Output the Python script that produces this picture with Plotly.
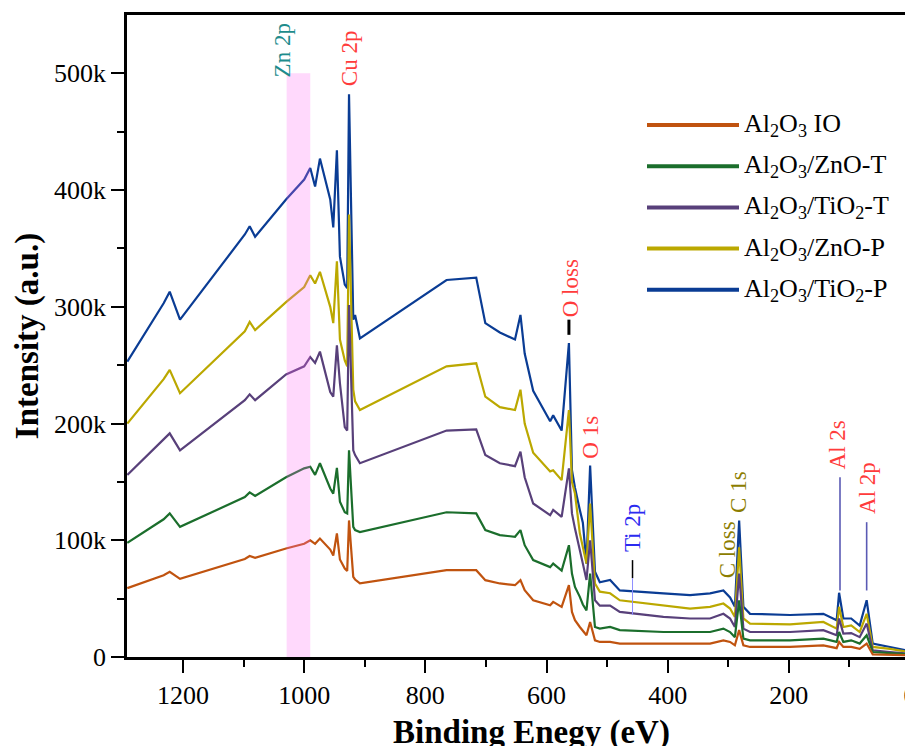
import numpy as np
import plotly.graph_objects as go

# Binding energy grid (eV)
energy = [1292, 1232, 1222, 1205, 1098, 1090, 1081, 1030, 1000, 990, 982, 974, 957, 952,
          946, 941, 933, 929, 926, 919, 916, 908, 765, 716, 701, 677, 652, 643, 636, 622,
          594, 589, 575, 563, 558, 553, 545, 540, 534, 528, 520, 512, 495, 479, 407, 363,
          330, 308, 297, 289, 282, 275, 264, 198, 143, 121, 117, 110, 97, 83, 71.5, 61.5,
          33, 5.5, 0]

# Intensities in thousands of counts
al2o3_io_k = [59, 70, 73, 67, 84, 86.5, 85, 93, 97, 100, 97, 101.5, 92, 87, 105.8, 83.5, 75.8,
              73.8, 117, 68.6, 66.4, 63, 74.4, 74.4, 65.8, 63, 61.5, 65.8, 57.2, 48.6, 44.3,
              47.2, 42.9, 61.5, 38.6, 31.5, 25.7, 22, 18.6, 30, 14.3, 12.9, 12.9, 11.5, 11.5,
              11.5, 11.5, 14.3, 12.9, 10, 23, 10, 8.6, 8.6, 10, 7.6, 12.9, 8.6, 8.6, 7, 11.5,
              2.3, 2, 1.5, 3]
zno_t_k = [97.8, 118, 123, 111.5, 137, 141, 138, 154, 161.6, 163, 156, 166, 144.4, 140, 162,
           133, 124, 123, 177, 111.5, 108.7, 107, 124, 123, 108.7, 104.4, 103, 108.7, 95.8, 83,
           77, 80, 74, 95.8, 71.5, 60, 51.5, 45, 40, 71.5, 25.7, 24.3, 25.7, 23, 21.4, 21.4,
           21.4, 24.3, 21.4, 17, 48.6, 15.8, 14.3, 14.3, 15.8, 12.9, 21.4, 12.9, 14.3, 11.5,
           18.6, 4.3, 3.4, 2.3, 5]
tio2_t_k = [156, 186, 191.6, 177, 220, 225, 220, 242, 249, 257, 252, 261.6, 227, 223, 267,
            234.5, 197, 194, 301.6, 177, 173, 166, 194, 195, 173, 166, 163.5, 176, 154, 131.5,
            121.5, 126, 120, 161.6, 123, 110, 90, 80, 66, 100, 48.6, 44, 44, 38.6, 34.3, 33,
            33, 37, 33, 25.7, 71.5, 24.3, 21.4, 21.4, 23, 18.6, 33, 20, 20.5, 17, 28.6, 5.7,
            4.3, 3, 8]
zno_p_k = [200, 238, 246, 226, 279, 287, 280, 304, 317, 327, 320, 330, 300, 286, 339, 272,
           254, 249, 379, 229, 219, 211.6, 249, 251.6, 223, 214, 211.6, 229, 200, 175, 159,
           160, 151.5, 211.6, 150, 140, 106, 95, 80, 131.5, 63, 56, 54.6, 48.6, 44, 41.5, 43,
           45.8, 41.5, 34.3, 94, 33, 28.6, 28, 30, 24.3, 43, 25.7, 27, 21.4, 37, 8.6, 7, 4.5, 12]
tio2_p_k = [253, 303, 313, 289, 362, 369, 360, 392, 409, 419, 403, 427, 392, 368, 434, 343,
            319, 316, 482, 289, 293, 273, 323, 325, 286, 278, 272, 293, 260, 228, 202, 207,
            194, 269, 160, 145, 126, 115, 80, 164, 73, 64, 66, 57, 54.5, 53, 54.5, 57, 51, 43,
            117, 43, 37, 36, 37, 31.5, 55, 33, 33, 27, 48.6, 11.5, 8.6, 5.7, 17]

series_names = ["Al<sub>2</sub>O<sub>3</sub> IO", "Al<sub>2</sub>O<sub>3</sub>/ZnO-T",
                "Al<sub>2</sub>O<sub>3</sub>/TiO<sub>2</sub>-T", "Al<sub>2</sub>O<sub>3</sub>/ZnO-P",
                "Al<sub>2</sub>O<sub>3</sub>/TiO<sub>2</sub>-P"]
series_values = [al2o3_io_k, zno_t_k, tio2_t_k, zno_p_k, tio2_p_k]
series_colors = ["#C0530F", "#1B6E2C", "#58407A", "#BBA800", "#0A3C94"]

x_ticks = [1200, 1000, 800, 600, 400, 200, 0]
y_ticks = [0, 100000, 200000, 300000, 400000, 500000]
y_ticktext = ["0", "100k", "200k", "300k", "400k", "500k"]
x_title = "<b>Binding Enegy (eV)</b>"
y_title = "<b>Intensity (a.u.)</b>"

# peak labels: (text, energy, intensity, color)
peak_labels = [
    ("Zn 2p", 1036, 520000, "#1E8C8C"),
    ("Cu 2p", 926, 513000, "#FF3B3B"),
    ("O loss", 561, 316000, "#FF3B3B"),
    ("O 1s", 528, 188000, "#FF3B3B"),
    ("Ti 2p", 458, 110000, "#2B2BF0"),
    ("C loss", 302, 91500, "#8C7D00"),
    ("C 1s", 283, 141000, "#8C7D00"),
    ("Al 2s", 119, 182000, "#FF3B3B"),
    ("Al 2p", 69, 145000, "#FF3B3B"),
]

SERIF = "Liberation Serif"
fig = go.Figure()

# draw topmost series first so lower ones overlay it
for name, vals, color in reversed(list(zip(series_names, series_values, series_colors))):
    fig.add_trace(go.Scatter(
        x=energy, y=np.array(vals) * 1000, mode="lines",
        line=dict(color=color, width=2.2), name=name, showlegend=False))

shapes = [
    dict(type="rect", xref="x", yref="y", x0=1029, x1=990, y0=0, y1=500000,
         fillcolor="#FF66F5", opacity=0.25, line=dict(width=0), layer="above"),
    dict(type="line", xref="x", yref="y", x0=563, x1=563, y0=276000, y1=289000,
         line=dict(color="black", width=3)),
    dict(type="line", xref="x", yref="y", x0=458, x1=458, y0=67500, y1=83000,
         line=dict(color="black", width=1.5)),
    dict(type="line", xref="x", yref="y", x0=458, x1=458, y0=36000, y1=67500,
         line=dict(color="#8F8FFF", width=1)),
    dict(type="line", xref="x", yref="y", x0=115.5, x1=115.5, y0=57000, y1=154000,
         line=dict(color="#5A5AB4", width=1.6)),
    dict(type="line", xref="x", yref="y", x0=71.5, x1=71.5, y0=57000, y1=115500,
         line=dict(color="#5A5AB4", width=1.6)),
]

annotations = []
for text, xe, yv, col in peak_labels:
    annotations.append(dict(text=text, x=xe, y=yv, xref="x", yref="y", showarrow=False,
                            textangle=-90, xanchor="center", yanchor="middle",
                            font=dict(family=SERIF, size=23, color=col)))

# figure sized for the page's default 8px body margin
OFF = 8
W, H = 913 - OFF, 746 - OFF
ML, MR, MT, MB = 119, 0, 7, 89
pw, ph = W - ML - MR, H - MT - MB
def px_x(px):
    return (px - OFF - ML) / pw
def px_y(py):
    return (H - MB - (py - OFF)) / ph

# manual legend (long line samples as in the reference)
leg_top, leg_step = 125, 41.2
for i, (name, color) in enumerate(zip(series_names, series_colors)):
    yy = px_y(leg_top + i * leg_step)
    shapes.append(dict(type="line", xref="paper", yref="paper", x0=px_x(647), x1=px_x(739),
                       y0=yy, y1=yy, line=dict(color=color, width=4)))
    annotations.append(dict(text=name, xref="paper", yref="paper", x=px_x(742), y=yy,
                            xanchor="left", yanchor="middle", showarrow=False,
                            font=dict(family=SERIF, size=26, color="black")))

# x-axis title placed as in the reference (partly below the page edge)
annotations.append(dict(text=x_title, xref="paper", yref="paper", x=px_x(531), y=px_y(712),
                        xanchor="center", yanchor="top", showarrow=False,
                        font=dict(family=SERIF, size=33, color="black")))

fig.update_layout(
    width=W, height=H, margin=dict(l=ML, r=MR, t=MT, b=MB),
    paper_bgcolor="white", plot_bgcolor="white",
    font=dict(family=SERIF, color="black"),
    shapes=shapes, annotations=annotations, showlegend=False,
    xaxis=dict(range=[1292.5, -5], tickvals=x_ticks, ticks="outside", ticklen=13, tickwidth=2,
               tickcolor="black", showline=True, linewidth=2.5, linecolor="black", mirror=True,
               showgrid=False, zeroline=False, automargin=False, ticklabeloverflow="allow",
               tickfont=dict(family=SERIF, size=26),
               minor=dict(tickvals=[1100, 900, 700, 500, 300, 100], ticks="outside", ticklen=7,
                          tickwidth=2, tickcolor="black")),
    yaxis=dict(range=[0, 550000], tickvals=y_ticks, ticktext=y_ticktext, ticks="outside",
               ticklen=13, tickwidth=2, tickcolor="black", showline=True, linewidth=2.5,
               linecolor="black", showgrid=False, zeroline=False, automargin=False,
               tickfont=dict(family=SERIF, size=26),
               minor=dict(tickvals=[50000, 150000, 250000, 350000, 450000], ticks="outside",
                          ticklen=7, tickwidth=2, tickcolor="black"),
               title=dict(text=y_title, font=dict(family=SERIF, size=33), standoff=6)),
)

fig.write_html("out.html")
